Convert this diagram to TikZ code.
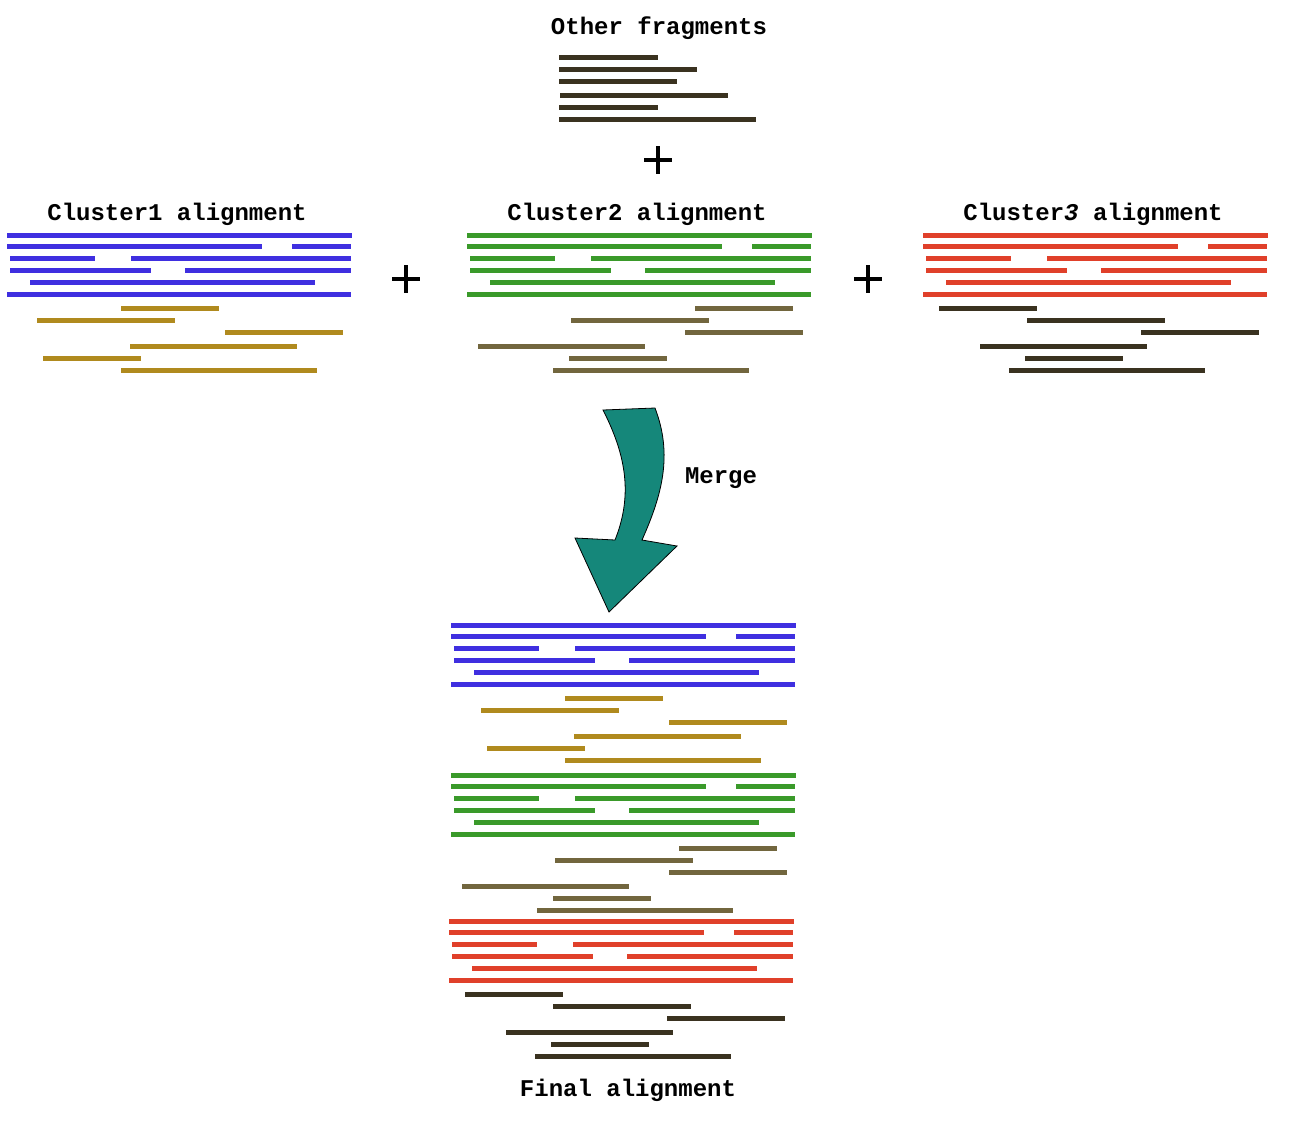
\documentclass[tikz,border=0pt]{standalone}
\usepackage{fontspec}
\setmonofont{Liberation Mono}
\definecolor{cblue}{HTML}{3F2FE0}
\definecolor{cgold}{HTML}{B08A1E}
\definecolor{cgreen}{HTML}{3A9A2A}
\definecolor{colive}{HTML}{72663E}
\definecolor{cred}{HTML}{E0402A}
\definecolor{cdark}{HTML}{3A3220}
\definecolor{cteal}{HTML}{15877A}
\newcommand\clusterbars[1]{%
  \draw[bar,#1] (7,235) -- (352,235);
  \draw[bar,#1] (7,246) -- (262,246);
  \draw[bar,#1] (292,246) -- (351,246);
  \draw[bar,#1] (10,258) -- (95,258);
  \draw[bar,#1] (131,258) -- (351,258);
  \draw[bar,#1] (10,270) -- (151,270);
  \draw[bar,#1] (185,270) -- (351,270);
  \draw[bar,#1] (30,282) -- (315,282);
  \draw[bar,#1] (7,294) -- (351,294);
}
\newcommand\goldbars{%
  \draw[bar,cgold] (121,308) -- (219,308);
  \draw[bar,cgold] (37,320) -- (175,320);
  \draw[bar,cgold] (225,332) -- (343,332);
  \draw[bar,cgold] (130,346) -- (297,346);
  \draw[bar,cgold] (43,358) -- (141,358);
  \draw[bar,cgold] (121,370) -- (317,370);
}
\newcommand\olivebars{%
  \draw[bar,colive] (695,308) -- (793,308);
  \draw[bar,colive] (571,320) -- (709,320);
  \draw[bar,colive] (685,332) -- (803,332);
  \draw[bar,colive] (478,346) -- (645,346);
  \draw[bar,colive] (569,358) -- (667,358);
  \draw[bar,colive] (553,370) -- (749,370);
}
\newcommand\darkbars{%
  \draw[bar,cdark] (939,308) -- (1037,308);
  \draw[bar,cdark] (1027,320) -- (1165,320);
  \draw[bar,cdark] (1141,332) -- (1259,332);
  \draw[bar,cdark] (980,346) -- (1147,346);
  \draw[bar,cdark] (1025,358) -- (1123,358);
  \draw[bar,cdark] (1009,370) -- (1205,370);
}
\begin{document}
\begin{tikzpicture}[x=1pt,y=-1pt,
  bar/.style={line width=5pt,line cap=butt},
  title/.style={font=\fontsize{24}{28}\selectfont\ttfamily\bfseries,inner sep=0pt,anchor=center},
  plusbar/.style={line width=3.2pt,black}]
\useasboundingbox (0,0) rectangle (1300,1120);
% titles
\node[title] (tother) at (659,28) {Other fragments};
\node[title] (tc1) at (177,214) {Cluster1 alignment};
\node[title] (tc2) at (637,214) {Cluster2 alignment};
\node[title] (tc3) at (1093,214) {Cluster{\itshape 3} alignment};
\node[title] (tmerge) at (721,478) {Merge};
\node[title] (tfinal) at (628,1090) {Final alignment};
% other fragments
\draw[bar,cdark] (559,57) -- (658,57);
\draw[bar,cdark] (559,69) -- (697,69);
\draw[bar,cdark] (559,81) -- (677,81);
\draw[bar,cdark] (560,95) -- (728,95);
\draw[bar,cdark] (559,107) -- (658,107);
\draw[bar,cdark] (559,119) -- (756,119);
% plus signs
\draw[plusbar] (644,160) -- (672,160) (658,146) -- (658,174);
\draw[plusbar] (392,279) -- (420,279) (406,265) -- (406,293);
\draw[plusbar] (854,279) -- (882,279) (868,265) -- (868,293);
% clusters
\clusterbars{cblue}
\goldbars
\begin{scope}[shift={(460,0)}]\clusterbars{cgreen}\end{scope}
\olivebars
\begin{scope}[shift={(916,0)}]\clusterbars{cred}\end{scope}
\darkbars
% merge arrow
\draw[fill=cteal,draw=black,line width=0.8pt,line join=miter]
  (603,410) .. controls (626,455) and (633,495) .. (615,540)
  -- (575,538) -- (609,612) -- (677,546) -- (642,540)
  .. controls (662,495) and (673,455) .. (655,408) -- cycle;
% final alignment
\begin{scope}[shift={(444,390)}]\clusterbars{cblue}\goldbars\end{scope}
\begin{scope}[shift={(-16,540)}]\begin{scope}[shift={(460,0)}]\clusterbars{cgreen}\end{scope}\olivebars\end{scope}
\begin{scope}[shift={(-474,686)}]\begin{scope}[shift={(916,0)}]\clusterbars{cred}\end{scope}\darkbars\end{scope}
\end{tikzpicture}
\end{document}
